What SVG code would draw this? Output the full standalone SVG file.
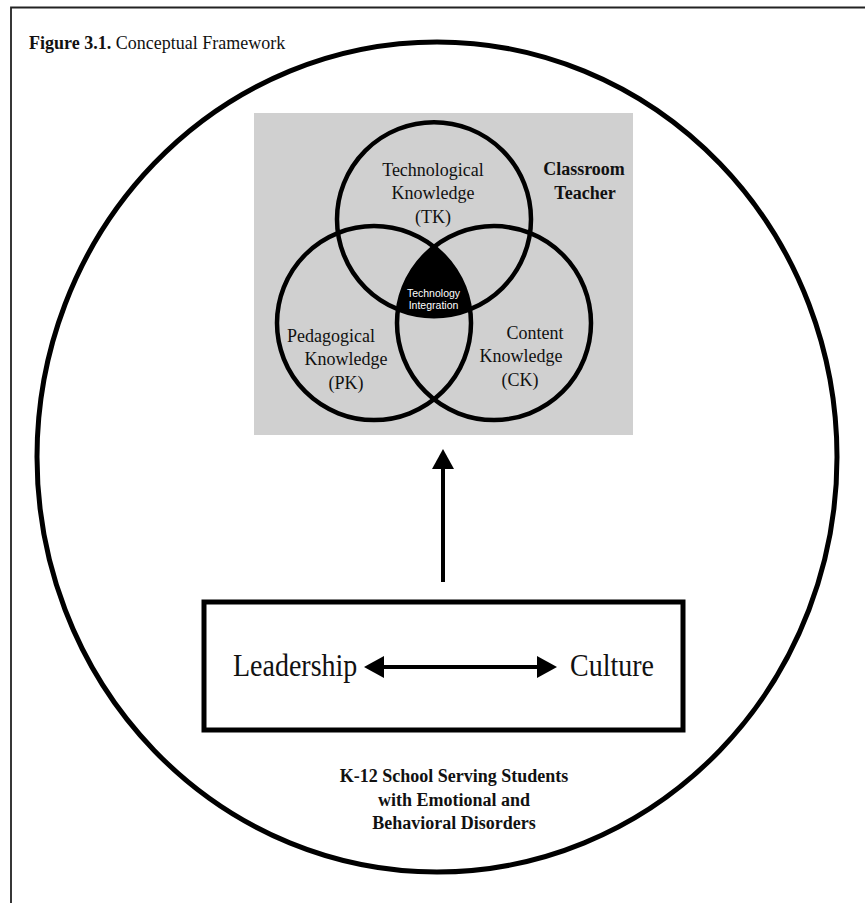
<svg xmlns="http://www.w3.org/2000/svg" width="865" height="903" viewBox="0 0 865 903">
<style>
.serif{font-family:"Liberation Serif","Times New Roman",serif;fill:#111;}
.lbl{font-size:18px;text-anchor:middle;}
.bold{font-weight:bold;}
.venn{fill:none;stroke:#000;stroke-width:4.5;}
.conn{stroke:#000;stroke-width:4;fill:none;}
</style>
<defs>
<marker id="ah" viewBox="0 0 20 22" refX="0" refY="11" markerWidth="20" markerHeight="22" markerUnits="userSpaceOnUse" orient="auto-start-reverse">
<path d="M0,0 L20,11 L0,22 Z" fill="#000"/>
</marker>
</defs>
<rect width="865" height="903" fill="#fff"/>
<g id="frame">
<path d="M11,903 L11,7.5 L865,7.5" fill="none" stroke="#222" stroke-width="1.8"/>
<text class="serif" x="29" y="49" font-size="18"><tspan font-weight="bold">Figure 3.1.</tspan> Conceptual Framework</text>
</g>
<g id="school">
<ellipse cx="437" cy="457" rx="400" ry="415" fill="none" stroke="#000" stroke-width="5"/>
<text class="serif lbl bold" x="454" y="782" font-size="18.5">K-12 School Serving Students</text>
<text class="serif lbl bold" x="454" y="805.5" font-size="18.5">with Emotional and</text>
<text class="serif lbl bold" x="454" y="829" font-size="18.5">Behavioral Disorders</text>
</g>
<g id="classroom-teacher">
<rect x="254" y="113" width="379" height="322" fill="#d0d0d0"/>
<text class="serif lbl bold" x="584" y="175">Classroom</text>
<text class="serif lbl bold" x="585" y="199">Teacher</text>
</g>
<g id="tk">
<circle class="venn" cx="434" cy="219.2" r="97"/>
<text class="serif lbl" x="433" y="175.5">Technological</text>
<text class="serif lbl" x="433" y="199">Knowledge</text>
<text class="serif lbl" x="433" y="222.5">(TK)</text>
</g>
<g id="pk">
<circle class="venn" cx="374" cy="323.1" r="97"/>
<text class="serif lbl" x="331" y="342">Pedagogical</text>
<text class="serif lbl" x="346" y="365">Knowledge</text>
<text class="serif lbl" x="346" y="388.5">(PK)</text>
</g>
<g id="ck">
<circle class="venn" cx="494" cy="323.1" r="97"/>
<text class="serif lbl" x="535" y="338.5">Content</text>
<text class="serif lbl" x="521" y="362">Knowledge</text>
<text class="serif lbl" x="520" y="386">(CK)</text>
</g>
<g id="technology-integration">
<path d="M434,246.9 A97,97 0 0 1 470,309.25 A97,97 0 0 1 398,309.25 A97,97 0 0 1 434,246.9 Z" fill="#000"/>
<text x="433.5" y="296.5" font-family="Liberation Sans, Arial, sans-serif" font-size="10.5" fill="#fff" text-anchor="middle">Technology</text>
<text x="433.5" y="309" font-family="Liberation Sans, Arial, sans-serif" font-size="10.5" fill="#fff" text-anchor="middle">Integration</text>
</g>
<g id="leadership-culture">
<rect x="204" y="602" width="479" height="128" fill="none" stroke="#000" stroke-width="5"/>
<text class="serif" transform="translate(233,676) scale(1,1.15)" font-size="28">Leadership</text>
<text class="serif" transform="translate(570,676) scale(1,1.15)" font-size="28">Culture</text>
</g>
<g id="connectors">
<line class="conn" x1="443" y1="582" x2="443" y2="469" marker-end="url(#ah)"/>
<line class="conn" x1="384" y1="667" x2="537" y2="667" marker-start="url(#ah)" marker-end="url(#ah)"/>
</g>
</svg>
